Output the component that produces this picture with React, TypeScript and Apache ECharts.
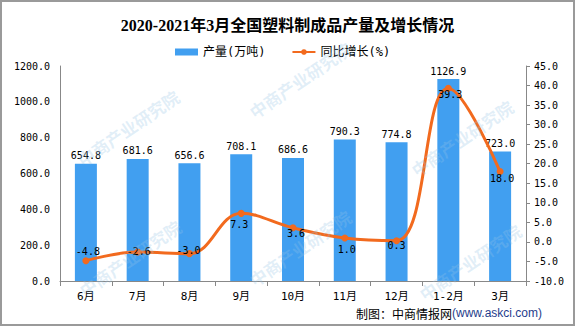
import React, { useEffect, useRef } from "react";
import * as echarts from "echarts";

const categories = ["6月", "7月", "8月", "9月", "10月", "11月", "12月", "1-2月", "3月"];
const production = [654.8, 681.6, 656.6, 708.1, 686.6, 790.3, 774.8, 1126.9, 723.0];
const growth = [-4.8, -2.6, -3.0, 7.3, 3.6, 1.0, 0.3, 39.3, 18.0];
const growthLabelOffsets: [number, number][] = [
  [2, -9], [1, -1], [-1, -3], [-2, 11], [3, 6], [2, 11], [0, 5], [2, 6], [2, 7],
];
const watermarks: [number, number][] = [
  [128, 128], [300, 248], [462, 138], [130, 258], [470, 262], [300, 80],
];

const MONO = "'DejaVu Sans Mono', 'Noto Sans CJK SC', monospace";

export default function App() {
  const ref = useRef<HTMLDivElement>(null);
  useEffect(() => {
    document.body.style.margin = "0";
    const chart = echarts.init(ref.current!, null, { renderer: "svg" });
    const option: any = {
      animation: false,
      backgroundColor: "#ffffff",
      title: {
        text: "2020-2021年3月全国塑料制成品产量及增长情况",
        left: "center",
        top: 12,
        textStyle: {
          fontFamily: "'Liberation Serif', 'Noto Sans CJK SC', serif",
          fontWeight: "bold",
          fontSize: 16,
          color: "#000",
        },
      },
      legend: {
        left: 170,
        top: 41,
        itemWidth: 23,
        itemHeight: 7,
        itemGap: 26,
        textStyle: { fontFamily: MONO, fontSize: 12, color: "#000" },
        data: [
          { name: "产量(万吨)", icon: "rect" },
          { name: "同比增长(%)" },
        ],
      },
      grid: { left: 60, right: 49, top: 66, bottom: 45 },
      xAxis: {
        type: "category",
        data: categories,
        axisLine: { lineStyle: { color: "#888", width: 1 } },
        axisTick: { show: true, length: 5, lineStyle: { color: "#888" } },
        axisLabel: { color: "#000", fontFamily: MONO, fontSize: 11, margin: 10 },
      },
      yAxis: [
        {
          type: "value",
          min: 0,
          max: 1200,
          interval: 200,
          splitLine: { show: false },
          axisLine: { show: true, lineStyle: { color: "#888" } },
          axisTick: { show: false },
          axisLabel: {
            color: "#000",
            fontFamily: MONO,
            fontSize: 10,
            margin: 10,
            formatter: (v: number) => v.toFixed(1),
          },
        },
        {
          type: "value",
          min: -10,
          max: 45,
          interval: 5,
          splitLine: { show: false },
          axisLine: { show: true, lineStyle: { color: "#888" } },
          axisTick: { show: true, length: 4, lineStyle: { color: "#888" } },
          axisLabel: {
            color: "#000",
            fontFamily: MONO,
            fontSize: 10,
            margin: 8,
            formatter: (v: number) => v.toFixed(1),
          },
        },
      ],
      series: [
        {
          name: "产量(万吨)",
          type: "bar",
          data: production,
          barWidth: 22,
          itemStyle: { color: "#419ff0" },
          label: {
            show: true,
            position: "top",
            distance: 3,
            color: "#000",
            fontFamily: MONO,
            fontSize: 10,
            formatter: (p: any) => Number(p.value).toFixed(1),
          },
          z: 2,
        },
        {
          name: "同比增长(%)",
          type: "line",
          yAxisIndex: 1,
          smooth: 0.4,
          symbol: "circle",
          symbolSize: 7,
          lineStyle: { color: "#f26a1e", width: 3 },
          itemStyle: { color: "#f26a1e" },
          data: growth.map((v, i) => ({
            value: v,
            label: { offset: growthLabelOffsets[i] },
          })),
          label: {
            show: true,
            position: "inside",
            color: "#000",
            fontFamily: MONO,
            fontSize: 10,
            formatter: (p: any) => Number(p.value).toFixed(1),
          },
          z: 3,
        },
      ],
      graphic: [
        ...watermarks.map(([x, y]) => ({
          type: "text",
          x,
          y,
          rotation: 0.6,
          silent: true,
          z: 100,
          style: {
            text: "中商产业研究院",
            fontFamily: "'Noto Sans CJK SC'",
            fontWeight: "bold",
            fontSize: 17,
            fill: "rgba(150,195,230,0.28)",
            align: "center",
            verticalAlign: "middle",
          },
        })),
        {
          type: "text",
          right: 33,
          top: 307,
          z: 50,
          style: {
            rich: {
              a: { fontFamily: "'Noto Sans CJK SC'", fontSize: 12, fill: "#000" },
              b: { fontFamily: "'Liberation Sans', Arial", fontSize: 12, fill: "#1f3d8c" },
            },
            text: "{a|制图：中商情报网}{b|(www.askci.com)}",
          },
        },
        {
          type: "rect",
          z: 200,
          silent: true,
          shape: { x: 1, y: 1, width: 573, height: 324 },
          style: { fill: "none", stroke: "#9a9a9a", lineWidth: 2 },
        },
      ],
    };
    chart.setOption(option);
    return () => chart.dispose();
  }, []);
  return <div ref={ref} style={{ width: 575, height: 326 }} />;
}
